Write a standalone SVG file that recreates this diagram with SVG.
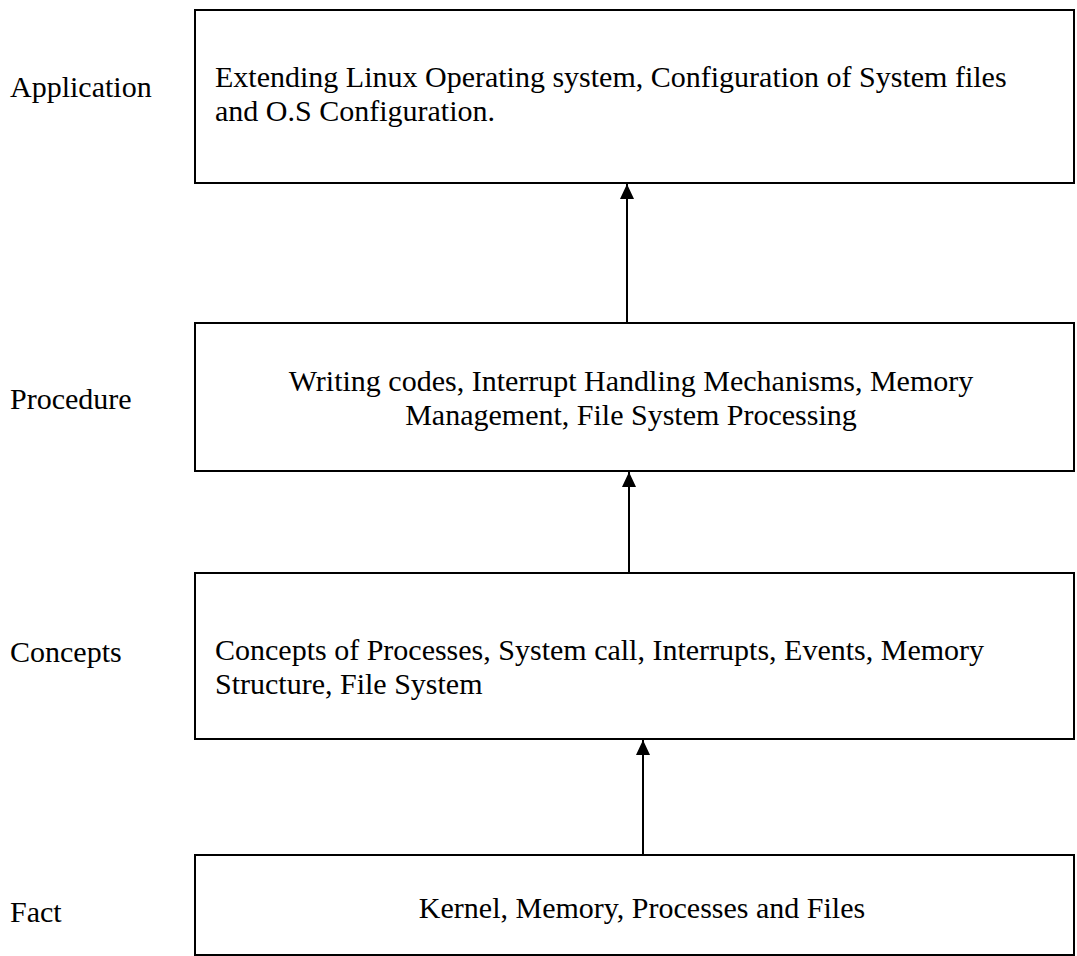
<svg xmlns="http://www.w3.org/2000/svg" width="1077" height="956" viewBox="0 0 1077 956">
<style>
.box{fill:#fff;stroke:#000;stroke-width:2}
text{font-family:"Liberation Serif","Times New Roman",serif;font-size:30px;fill:#000}
.c{text-anchor:middle}
.conn{stroke:#000;stroke-width:2;fill:none}
</style>
<defs>
<marker id="ah" viewBox="0 0 15 14" refX="15" refY="7" markerWidth="15" markerHeight="14" markerUnits="userSpaceOnUse" orient="auto">
<path d="M0,0 L15,7 L0,14 Z" fill="#000"/>
</marker>
</defs>
<rect width="1077" height="956" fill="#fff"/>
<g id="label-application"><text x="10" y="97">Application</text></g>
<g id="label-procedure"><text x="10" y="409">Procedure</text></g>
<g id="label-concepts"><text x="10" y="662">Concepts</text></g>
<g id="label-fact"><text x="10" y="922">Fact</text></g>
<g id="node-application">
<rect class="box" x="195" y="10" width="879" height="173"/>
<text x="215" y="87">Extending Linux Operating system, Configuration of System files</text>
<text x="215" y="121">and O.S Configuration.</text>
</g>
<g id="node-procedure">
<rect class="box" x="195" y="323" width="879" height="148"/>
<text class="c" x="631" y="391">Writing codes, Interrupt Handling Mechanisms, Memory</text>
<text class="c" x="631" y="425">Management, File System Processing</text>
</g>
<g id="node-concepts">
<rect class="box" x="195" y="573" width="879" height="166"/>
<text x="215" y="660">Concepts of Processes, System call, Interrupts, Events, Memory</text>
<text x="215" y="694">Structure, File System</text>
</g>
<g id="node-fact">
<rect class="box" x="195" y="855" width="879" height="100"/>
<text class="c" x="642" y="918">Kernel, Memory, Processes and Files</text>
</g>
<g id="connectors">
<line class="conn" x1="627" y1="323" x2="627" y2="184" marker-end="url(#ah)"/>
<line class="conn" x1="629" y1="573" x2="629" y2="472" marker-end="url(#ah)"/>
<line class="conn" x1="643" y1="855" x2="643" y2="740" marker-end="url(#ah)"/>
</g>
</svg>
